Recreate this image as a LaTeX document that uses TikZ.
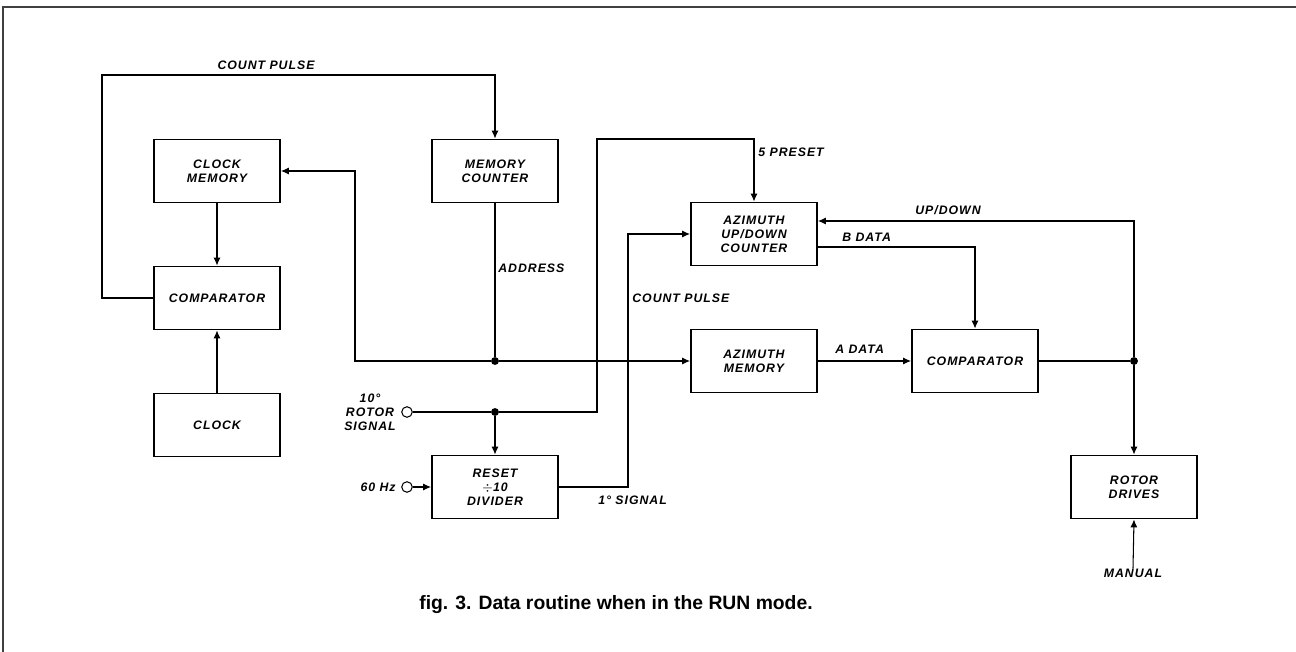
\documentclass[tikz,border=0pt]{standalone}
\usepackage{fontspec}
\setmainfont{Liberation Sans}
\newfontfamily\blockfont[LetterSpace=8]{Liberation Sans}
\usetikzlibrary{arrows.meta,calc}

\begin{document}
\begin{tikzpicture}[x=0.02cm, y=-0.02cm,
  blk/.style={draw, line width=1.1pt, minimum width=2.52cm, minimum height=1.26cm,
              align=center, inner sep=2pt, font=\blockfont\bfseries\itshape\fontsize{7}{8}\selectfont},
  lbl/.style={inner sep=0pt, align=center, font=\blockfont\bfseries\itshape\fontsize{7}{8}\selectfont},
  wire/.style={line width=0.6pt},
  arr/.style={wire, -{Latex[length=4.5pt,width=4pt]}},
  dot/.style={circle, fill, inner sep=0pt, minimum size=4.5pt},
  port/.style={circle, draw, line width=0.6pt, inner sep=0pt, minimum size=6pt}
]
\useasboundingbox (0,0) rectangle (1296,652);
%% frame
\draw[line width=1.2pt, black!75] (3,652) -- (3,7) -- (1296,7);

%% left column
\node[blk] (clkmem) at (217,171) {CLOCK\\MEMORY};
\node[blk] (cmpL)   at (217,298) {COMPARATOR};
\node[blk] (clock)  at (217,425) {CLOCK};
\draw[arr] (clkmem) -- (cmpL);
\draw[arr] (clock) -- (cmpL);

%% middle column
\node[blk] (memctr) at (495,171) {MEMORY\\COUNTER};
\node[blk] (div)    at (495,487) {RESET\\$\div$10\\DIVIDER};
\node[port] (rotin) at (407,412) {};
\node[port] (hzin)  at (407,487) {};
\node[lbl] (rotlab) at (370,412) {10°\\ROTOR\\SIGNAL};
\node[lbl, anchor=east] (hzlab) at (396,487) {60 Hz};

%% right part
\node[blk] (udc)    at (754,234) {AZIMUTH\\UP/DOWN\\COUNTER};
\node[blk] (azmem)  at (754,361) {AZIMUTH\\MEMORY};
\node[blk] (cmpR)   at (975,361) {COMPARATOR};
\node[blk] (rotdrv) at (1134,487) {ROTOR\\DRIVES};
\node[lbl] (manual) at (1133,573) {MANUAL};

%% junctions and bends
\node[dot] (jAddr) at (495,361) {};
\node[dot] (jRot)  at (495,412) {};
\node[dot] (jOut)  at (1134,361) {};
\coordinate (cpTop)  at (102,75);
\coordinate (bendA)  at (355,361);
\coordinate (preTop) at (597,139);
\coordinate (cpMid)  at (628,234);

%% count pulse to memory counter
\draw[arr] (cmpL.west) -| (cpTop) -| (memctr.north);
\node[lbl] (cplab) at (266,65) {COUNT PULSE};

%% address bus
\draw[wire] (memctr.south) -- (jAddr);
\node[lbl, anchor=west] (adlab) at (498,268) {ADDRESS};
\draw[arr] (jAddr) -- (bendA) |- (clkmem.east);
\draw[arr] (jAddr) -- (azmem.west);

%% rotor signal and divider
\draw[wire] (rotin.east) -- (jRot);
\draw[arr] (jRot) -| (preTop) -| (udc.north);
\node[lbl, anchor=west] (prelab) at (758,152) {5 PRESET};
\draw[arr] (jRot) -- (div.north);
\draw[arr] (hzin.east) -- (div.west);
\draw[arr] (div.east) -| (cpMid) -- (udc.west);
\node[lbl, anchor=west] (cp2lab) at (632,298) {COUNT PULSE};
\node[lbl, anchor=west] (siglab) at (598,500) {1° SIGNAL};

%% data to comparator
\draw[arr] ($(udc.east)+(0,13)$) -| (cmpR.north);
\node[lbl, anchor=west] (blab) at (842,237) {B DATA};
\draw[arr] (azmem.east) -- (cmpR.west);
\node[lbl, anchor=west] (alab) at (835,349) {A DATA};

%% output to rotor drives
\draw[wire] (cmpR.east) -- (jOut);
\draw[arr] (jOut) -- (rotdrv.north);
\draw[arr] (jOut) |- ($(udc.east)+(0,-13)$);
\node[lbl, anchor=west] (udlab) at (915,210) {UP/DOWN};
\draw[arr] (manual.north) -- (rotdrv.south);

%% caption
\node[font=\bfseries\fontsize{11}{13}\selectfont, inner sep=0pt] (caption) at (616,605)
  {fig. 3. Data routine when in the RUN mode.};
\end{tikzpicture}
\end{document}
